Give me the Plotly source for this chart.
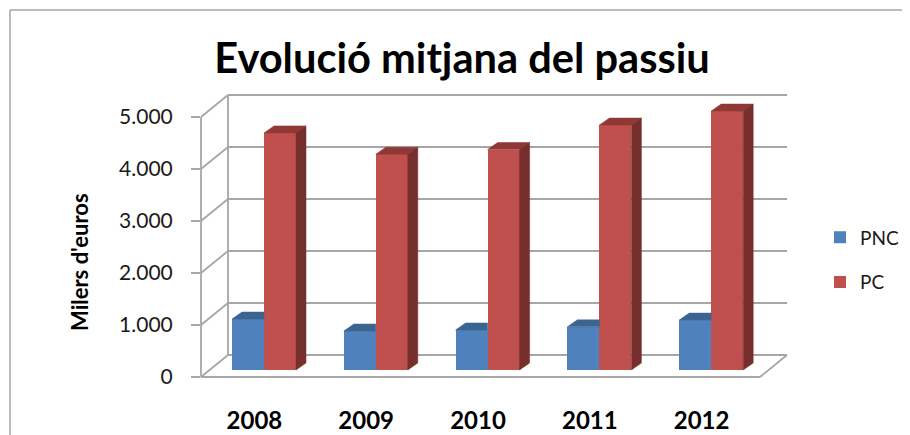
import plotly.graph_objects as go

categories = ["2008", "2009", "2010", "2011", "2012"]
pnc_values = [980, 750, 770, 830, 960]
pc_values = [4560, 4150, 4240, 4710, 4980]
y_ticks = [0, 1000, 2000, 3000, 4000, 5000]

PAGE = 8                            # default page margin of the browser
W, H = 910 - PAGE, 435 - PAGE
L, R, T, B = 201 - PAGE, 790 - PAGE, 94 - PAGE, 380 - PAGE   # plot box in pixels
Y0 = 377 - PAGE                     # pixel row of value 0
PX_X = 111.8                        # pixels per category
PX_Y = 0.052                        # pixels per value unit
px = lambda p: p / PX_X
py = lambda p: p / PX_Y

wall_dx, wall_dy = px(27), py(22)   # depth of the floor/walls
bar_dx, bar_dy = px(10), py(7)      # depth of a bar
base = py(7)                        # bars stand forward on the floor
bar_w = px(32)
first_bar = px(31)                  # left edge of the first blue bar
n = len(categories)

GRID = "#a6a6a6"
BLUE, BLUE_TOP = "#4f81bd", "#3c6490"
RED, RED_TOP, RED_SIDE = "#c0504d", "#8f3836", "#772f2d"
FONT = "Lato"

x_blue = [first_bar + i + bar_w / 2 for i in range(n)]
x_red = [first_bar + i + 3 * bar_w / 2 for i in range(n)]

fig = go.Figure()
for name, xs, vals, col in (("PNC", x_blue, pnc_values, BLUE), ("PC", x_red, pc_values, RED)):
    fig.add_trace(go.Bar(
        x=xs, y=vals, base=base, width=bar_w, name=name,
        legendgroup=name, marker=dict(color=col, line=dict(width=0)),
    ))


def poly(xs, ys, col):
    fig.add_trace(go.Scatter(
        x=xs, y=ys, mode="lines", fill="toself", fillcolor=col,
        line=dict(color=col, width=0.5), showlegend=False, hoverinfo="skip",
    ))


for xc, v in zip(x_blue, pnc_values):
    x0, x1 = xc - bar_w / 2, xc + bar_w / 2
    top = base + v
    poly([x0, x1, x1, x0 + bar_dx, x0], [top, top, top + bar_dy, top + bar_dy, top], BLUE_TOP)
for xc, v in zip(x_red, pc_values):
    x0, x1 = xc - bar_w / 2, xc + bar_w / 2
    top = base + v
    poly([x0, x1, x1 + bar_dx, x0 + bar_dx, x0], [top, top, top + bar_dy, top + bar_dy, top], RED_TOP)
    poly([x1, x1 + bar_dx, x1 + bar_dx, x1, x1],
         [top, top + bar_dy, base + bar_dy, base, top], RED_SIDE)

line = dict(color=GRID, width=1.8)
shapes = []
for t in y_ticks:
    # side wall diagonal and back wall rule
    shapes.append(dict(type="line", xref="x", yref="y", layer="below", line=line,
                       x0=0, y0=t, x1=wall_dx, y1=t + wall_dy))
    shapes.append(dict(type="line", xref="x", yref="y", layer="below", line=line,
                       x0=wall_dx, y0=t + wall_dy, x1=n + wall_dx, y1=t + wall_dy))
# corner verticals and the floor
shapes.append(dict(type="line", xref="paper", yref="y", layer="below", line=line,
                   x0=0, y0=0, x1=0, y1=y_ticks[-1]))
shapes.append(dict(type="line", xref="x", yref="y", layer="below", line=line,
                   x0=wall_dx, y0=wall_dy, x1=wall_dx, y1=y_ticks[-1] + wall_dy))
shapes.append(dict(type="line", xref="x", yref="y", layer="below", line=line,
                   x0=0, y0=0, x1=n, y1=0))
shapes.append(dict(type="line", xref="x", yref="y", layer="below", line=line,
                   x0=n, y0=0, x1=n + wall_dx, y1=wall_dy))
# outer frame of the pasted chart
fx = lambda p: (p - PAGE - L) / (R - L)
fy = lambda p: 1 - (p - PAGE - T) / (B - T)
frame = dict(color="#a6a6a6", width=1.5)
shapes.append(dict(type="line", xref="paper", yref="paper", line=frame,
                   x0=fx(10), x1=fx(10), y0=fy(10), y1=fy(435)))
shapes.append(dict(type="line", xref="paper", yref="paper", line=frame,
                   x0=fx(10), x1=fx(910), y0=fy(10), y1=fy(10)))

fig.update_layout(
    width=W, height=H, autosize=False,
    margin=dict(l=L, r=W - R, t=T, b=H - B, pad=0, autoexpand=False),
    paper_bgcolor="white", plot_bgcolor="white",
    barmode="overlay", bargap=0, separators=",.",
    font=dict(family=FONT, color="#1a1a1a"),
    title=dict(text="<b>Evolució mitjana del passiu</b>", x=(462 - PAGE) / W, xanchor="center",
               y=1 - (58 - PAGE) / H, yanchor="middle", font=dict(family=FONT, size=41.6, color="black")),
    xaxis=dict(range=[0, px(R - L)], tickmode="array",
               tickvals=[i + 0.5 - px(2.5) for i in range(n)], ticktext=categories,
               ticks="", showgrid=False, zeroline=False, showline=False,
               ticklabelstandoff=24, automargin=False,
               tickfont=dict(family=FONT, size=24, color="black", weight="bold")),
    yaxis=dict(range=[py(Y0 - B), py(Y0 - T)], tickmode="array", tickvals=y_ticks,
               tickformat=",d", ticks="outside", ticklen=9, tickwidth=1.5, tickcolor=GRID,
               showgrid=False, zeroline=False, showline=False, ticklabelstandoff=14,
               automargin=False,
               tickfont=dict(family=FONT, size=21, color="#1a1a1a")),
    legend=dict(x=fx(820), xanchor="left", y=fy(260), yanchor="middle",
                traceorder="grouped", tracegroupgap=17, bgcolor="rgba(0,0,0,0)",
                font=dict(family=FONT, size=19, color="#1a1a1a")),
    annotations=[dict(text="<b>Milers d'euros</b>", textangle=-90, xref="paper", yref="paper",
                      x=fx(79), y=fy(262), xanchor="center", yanchor="middle", showarrow=False,
                      font=dict(family=FONT, size=22, color="black"))],
    shapes=shapes,
    showlegend=True,
)

fig.write_html("out.html")
